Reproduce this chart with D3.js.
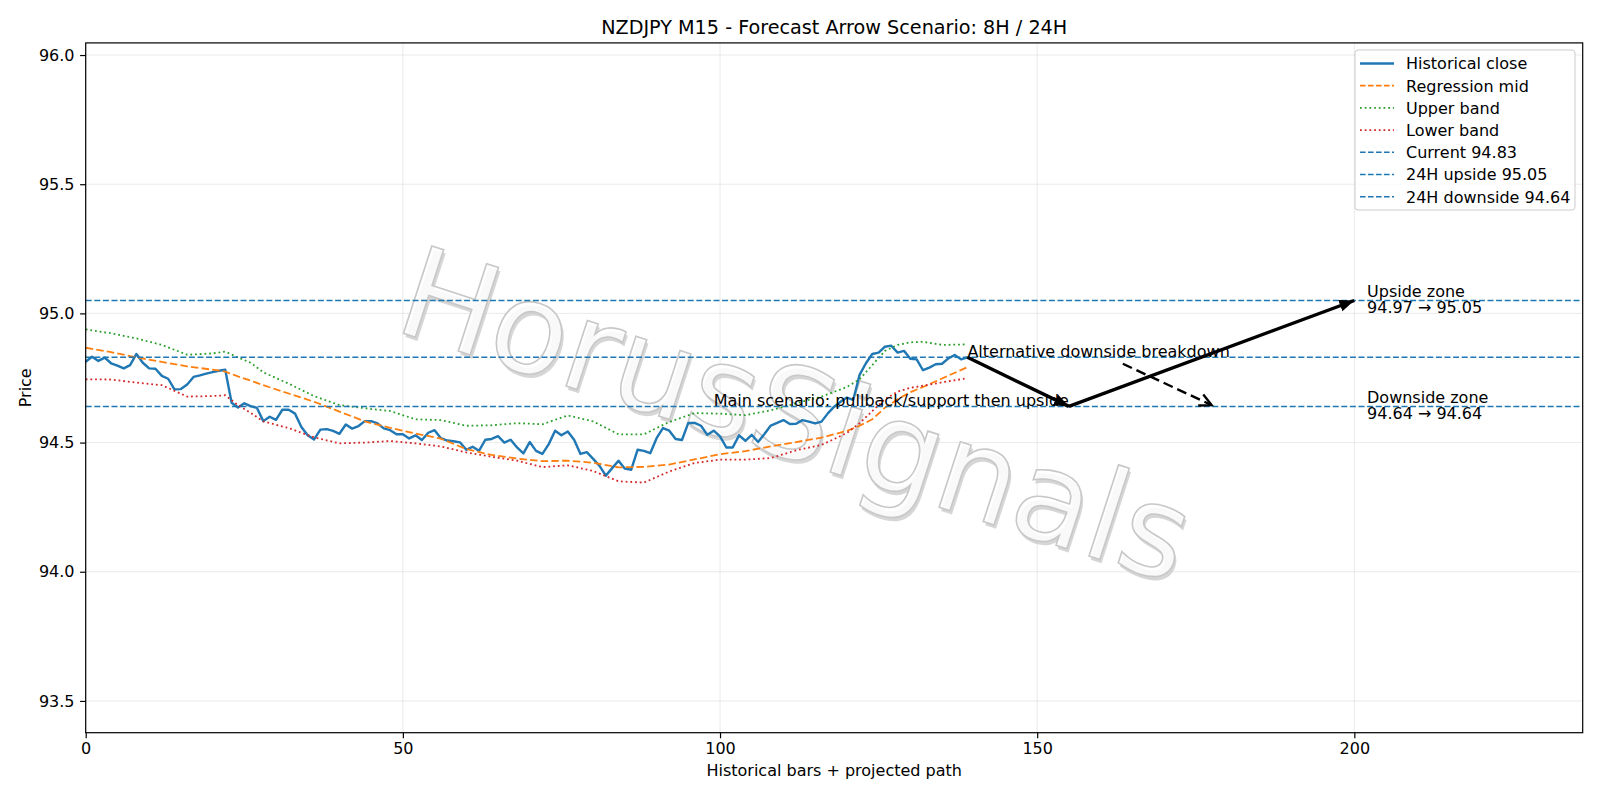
<!DOCTYPE html>
<html>
<head>
<meta charset="utf-8">
<script src="https://cdn.jsdelivr.net/npm/d3@7"></script>
<style>
	body { margin: 0; background: #ffffff; }
	text { font-family: "DejaVu Sans", sans-serif; }
</style>
</head>
<body>
<svg id="chart" width="1600" height="800"></svg>
<script>
// Historical close, one value per bar (0..139)
const closeValues = [
	94.813, 94.832, 94.816, 94.829, 94.807, 94.798, 94.787, 94.800, 94.843, 94.809,
	94.787, 94.786, 94.758, 94.747, 94.706, 94.707, 94.725, 94.754, 94.760, 94.767,
	94.773, 94.778, 94.782, 94.654, 94.636, 94.652, 94.641, 94.634, 94.583, 94.600,
	94.588, 94.627, 94.627, 94.612, 94.560, 94.528, 94.512, 94.550, 94.552, 94.545,
	94.534, 94.570, 94.554, 94.564, 94.583, 94.583, 94.574, 94.555, 94.548, 94.532,
	94.532, 94.516, 94.528, 94.510, 94.538, 94.548, 94.517, 94.508, 94.505, 94.501,
	94.472, 94.484, 94.468, 94.511, 94.514, 94.525, 94.500, 94.511, 94.481, 94.458,
	94.502, 94.468, 94.456, 94.494, 94.546, 94.528, 94.543, 94.511, 94.456, 94.463,
	94.437, 94.410, 94.372, 94.401, 94.430, 94.399, 94.395, 94.472, 94.468, 94.459,
	94.517, 94.556, 94.546, 94.514, 94.510, 94.576, 94.576, 94.565, 94.530, 94.546,
	94.524, 94.481, 94.481, 94.528, 94.507, 94.530, 94.502, 94.533, 94.566, 94.576,
	94.587, 94.572, 94.573, 94.587, 94.581, 94.574, 94.581, 94.613, 94.639, 94.658,
	94.674, 94.665, 94.762, 94.807, 94.843, 94.848, 94.871, 94.875, 94.848, 94.855,
	94.824, 94.822, 94.780, 94.790, 94.803, 94.805, 94.826, 94.839, 94.822, 94.830
];

// Regression channel, read at these bars
const bandX = [0, 4, 8, 12, 16, 20, 22, 24, 26, 28, 32, 36, 40, 44, 48, 52, 56, 60, 64, 68, 72,
	76, 80, 84, 88, 92, 96, 100, 104, 108, 112, 116, 120, 122, 124, 126, 128, 130, 132, 135, 139];
const midValues = [94.867, 94.850, 94.830, 94.812, 94.795, 94.782, 94.775, 94.756, 94.740, 94.722,
	94.690, 94.658, 94.620, 94.582, 94.557, 94.535, 94.515, 94.475, 94.452, 94.438, 94.428,
	94.430, 94.422, 94.404, 94.406, 94.415, 94.435, 94.455, 94.467, 94.485, 94.502, 94.519,
	94.545, 94.565, 94.590, 94.635, 94.668, 94.695, 94.715, 94.748, 94.792];
const upperValues = [94.938, 94.923, 94.903, 94.878, 94.840, 94.845, 94.852, 94.830, 94.809, 94.772,
	94.728, 94.680, 94.645, 94.633, 94.622, 94.590, 94.587, 94.565, 94.567, 94.575, 94.571,
	94.605, 94.582, 94.532, 94.532, 94.580, 94.614, 94.612, 94.606, 94.625, 94.652, 94.678,
	94.715, 94.745, 94.800, 94.855, 94.878, 94.888, 94.890, 94.878, 94.880];
const lowerValues = [94.745, 94.744, 94.732, 94.722, 94.678, 94.680, 94.683, 94.645, 94.615, 94.582,
	94.556, 94.520, 94.497, 94.500, 94.506, 94.497, 94.485, 94.462, 94.445, 94.430, 94.405,
	94.412, 94.390, 94.350, 94.345, 94.388, 94.421, 94.434, 94.434, 94.440, 94.470, 94.491,
	94.537, 94.575, 94.622, 94.668, 94.697, 94.712, 94.720, 94.733, 94.749];

// Key levels
const levelValues = [94.83, 95.05, 94.64];
const levelNames = ["Current", "24H upside", "24H downside"];

// Scenario paths
const mainPathX = [139, 155, 200];
const mainPathY = [94.83, 94.64, 95.05];
const altPathX = [163.5, 177.5];
const altPathY = [94.805, 94.645];

// Zone labels
const zoneX = 202;
const zoneY = [95.05, 94.64];
const zoneText = [["Upside zone", "94.97 \u2192 95.05"], ["Downside zone", "94.64 \u2192 94.64"]];

// Axes
const xDomain = [0, 236];
const yDomain = [93.377, 96.047];
const xTicks = [0, 50, 100, 150, 200];
const yTicks = [93.5, 94.0, 94.5, 95.0, 95.5, 96.0];

const chartTitle = "NZDJPY M15 - Forecast Arrow Scenario: 8H / 24H";
const xTitle = "Historical bars + projected path";
const yTitle = "Price";

// Colors
const cBlue = "#1f77b4", cOrange = "#ff7f0e", cGreen = "#2ca02c", cRed = "#d62728";

// Layout
const width = 1600, height = 800;
const margin = {top: 42.9, right: 17.3, bottom: 67.3, left: 85.7};
const fs = 16;
const tk = 5.6;

const svg = d3.select("#chart");

const x = d3.scaleLinear().domain(xDomain).range([margin.left, width - margin.right]);
const y = d3.scaleLinear().domain(yDomain).range([height - margin.bottom, margin.top]);

const defs = svg.append("defs");
defs.append("clipPath").attr("id", "plotClip")
	.append("rect")
	.attr("x", margin.left).attr("y", margin.top)
	.attr("width", width - margin.left - margin.right)
	.attr("height", height - margin.top - margin.bottom);

// Arrow heads
defs.append("marker")
	.attr("id", "headFill")
	.attr("markerUnits", "userSpaceOnUse")
	.attr("viewBox", "0 -8 16 16")
	.attr("refX", 15).attr("refY", 0)
	.attr("markerWidth", 16).attr("markerHeight", 16)
	.attr("orient", "auto")
	.append("path").attr("d", "M0,-6L15,0L0,6Z").attr("fill", "#000");
defs.append("marker")
	.attr("id", "headOpen")
	.attr("markerUnits", "userSpaceOnUse")
	.attr("viewBox", "0 -8 16 16")
	.attr("refX", 13).attr("refY", 0)
	.attr("markerWidth", 16).attr("markerHeight", 16)
	.attr("orient", "auto")
	.append("path").attr("d", "M1,-6L13,0L1,6")
	.attr("fill", "none").attr("stroke", "#000").attr("stroke-width", 2.4);

// Grid
const grid = svg.append("g").attr("stroke", "#b0b0b0").attr("stroke-opacity", 0.3).attr("stroke-width", 0.9);
xTicks.forEach(t => grid.append("line")
	.attr("x1", x(t)).attr("x2", x(t)).attr("y1", margin.top).attr("y2", height - margin.bottom));
yTicks.forEach(t => grid.append("line")
	.attr("y1", y(t)).attr("y2", y(t)).attr("x1", margin.left).attr("x2", width - margin.right));

// Watermark
const wm = svg.append("g")
	.attr("transform", "translate(796,415) rotate(18)")
	.style("font-size", "126px")
	.attr("text-anchor", "middle")
	.attr("dominant-baseline", "central");
wm.append("text").attr("x", 3).attr("y", 3)
	.attr("fill", "#c8c8c8").attr("fill-opacity", 0.75)
	.text("HorusSignals");
wm.append("text")
	.attr("fill", "#ffffff").attr("fill-opacity", 0.85)
	.attr("stroke", "#c8c8c8").attr("stroke-width", 1.6)
	.text("HorusSignals");

// Series
const plot = svg.append("g").attr("clip-path", "url(#plotClip)");

const closeLine = d3.line().x((d, i) => x(i)).y(d => y(d));
const bandLine = d3.line().x((d, i) => x(bandX[i])).y(d => y(d));

plot.append("path").datum(closeValues)
	.attr("d", closeLine)
	.attr("fill", "none").attr("stroke", cBlue).attr("stroke-width", 2.4)
	.attr("stroke-linejoin", "round");
plot.append("path").datum(midValues)
	.attr("d", bandLine)
	.attr("fill", "none").attr("stroke", cOrange).attr("stroke-width", 1.8)
	.attr("stroke-dasharray", "7.5,3.2");
plot.append("path").datum(upperValues)
	.attr("d", bandLine)
	.attr("fill", "none").attr("stroke", cGreen).attr("stroke-width", 1.8)
	.attr("stroke-dasharray", "1.8,2.9");
plot.append("path").datum(lowerValues)
	.attr("d", bandLine)
	.attr("fill", "none").attr("stroke", cRed).attr("stroke-width", 1.8)
	.attr("stroke-dasharray", "1.8,2.9");

// Level lines
plot.selectAll(".level")
	.data(levelValues)
	.enter()
	.append("line")
	.attr("class", "level")
	.attr("x1", margin.left).attr("x2", width - margin.right)
	.attr("y1", d => y(d)).attr("y2", d => y(d))
	.attr("stroke", cBlue).attr("stroke-width", 1.5)
	.attr("stroke-dasharray", "6,2.6");

// Scenario arrows
for (let i = 0; i < mainPathX.length - 1; i++) {
	plot.append("line")
		.attr("x1", x(mainPathX[i])).attr("y1", y(mainPathY[i]))
		.attr("x2", x(mainPathX[i + 1])).attr("y2", y(mainPathY[i + 1]))
		.attr("stroke", "#000").attr("stroke-width", 3.4)
		.attr("marker-end", "url(#headFill)");
}
plot.append("line")
	.attr("x1", x(altPathX[0])).attr("y1", y(altPathY[0]))
	.attr("x2", x(altPathX[1])).attr("y2", y(altPathY[1]))
	.attr("stroke", "#000").attr("stroke-width", 2.4)
	.attr("stroke-dasharray", "10,5")
	.attr("marker-end", "url(#headOpen)");

// Annotations
const notes = svg.append("g").style("font-size", fs + "px").attr("fill", "#000");
notes.append("text")
	.attr("x", x(mainPathX[1])).attr("y", y(mainPathY[1]))
	.attr("text-anchor", "end")
	.text("Main scenario: pullback/support then upside");
notes.append("text")
	.attr("x", x(mainPathX[0])).attr("y", y(mainPathY[0]))
	.text("Alternative downside breakdown");
zoneText.forEach((lines, i) => {
	lines.forEach((t, j) => {
		notes.append("text")
			.attr("x", x(zoneX))
			.attr("y", y(zoneY[i]) - 3.4 + j * 16.3)
			.text(t);
	});
});

// Axes
const xAxis = svg.append("g")
	.attr("transform", "translate(0," + (height - margin.bottom) + ")")
	.call(d3.axisBottom(x).tickValues(xTicks).tickFormat(d3.format("d"))
		.tickSize(tk).tickPadding(4).tickSizeOuter(0));
const yAxis = svg.append("g")
	.attr("transform", "translate(" + margin.left + ",0)")
	.call(d3.axisLeft(y).tickValues(yTicks).tickFormat(d3.format(".1f"))
		.tickSize(tk).tickPadding(5.6).tickSizeOuter(0));
[xAxis, yAxis].forEach(a => {
	a.select(".domain").remove();
	a.selectAll(".tick line").attr("stroke", "#000").attr("stroke-width", 1.2);
	a.selectAll(".tick text")
		.attr("fill", "#000")
		.style("font-family", "DejaVu Sans")
		.style("font-size", fs + "px");
});

// Frame
svg.append("rect")
	.attr("x", margin.left).attr("y", margin.top)
	.attr("width", width - margin.left - margin.right)
	.attr("height", height - margin.top - margin.bottom)
	.attr("fill", "none").attr("stroke", "#000").attr("stroke-width", 1.2);

// Titles
svg.append("text")
	.attr("x", (margin.left + width - margin.right) / 2).attr("y", 33.5)
	.attr("text-anchor", "middle")
	.style("font-size", "19.2px")
	.text(chartTitle);
svg.append("text")
	.attr("x", (margin.left + width - margin.right) / 2).attr("y", 776)
	.attr("text-anchor", "middle")
	.style("font-size", fs + "px")
	.text(xTitle);
svg.append("text")
	.attr("transform", "translate(31," + ((margin.top + height - margin.bottom) / 2) + ") rotate(-90)")
	.attr("text-anchor", "middle")
	.style("font-size", fs + "px")
	.text(yTitle);

// Legend
const legendItems = [
	{label: "Historical close", color: cBlue, dash: null, w: 2.4},
	{label: "Regression mid", color: cOrange, dash: "5.6,2.4", w: 1.8},
	{label: "Upper band", color: cGreen, dash: "1.8,2.9", w: 1.8},
	{label: "Lower band", color: cRed, dash: "1.8,2.9", w: 1.8}
].concat(levelValues.map((v, i) => ({
	label: levelNames[i] + " " + v.toFixed(2), color: cBlue, dash: "5.6,2.4", w: 1.5
})));

const legend = svg.append("g");
legend.append("rect")
	.attr("x", 1355).attr("y", 50).attr("width", 220).attr("height", 160)
	.attr("rx", 3)
	.attr("fill", "#fff").attr("fill-opacity", 0.8)
	.attr("stroke", "#cccccc").attr("stroke-width", 1);

const rows = legend.selectAll(".row")
	.data(legendItems)
	.enter()
	.append("g")
	.attr("class", "row")
	.attr("transform", (d, i) => "translate(0," + (63.5 + i * 22.2) + ")");
rows.append("line")
	.attr("x1", 1360).attr("x2", 1394)
	.attr("stroke", d => d.color)
	.attr("stroke-width", d => d.w)
	.attr("stroke-dasharray", d => d.dash);
rows.append("text")
	.attr("x", 1406).attr("y", 5.8)
	.style("font-size", fs + "px")
	.text(d => d.label);
</script>
</body>
</html>
